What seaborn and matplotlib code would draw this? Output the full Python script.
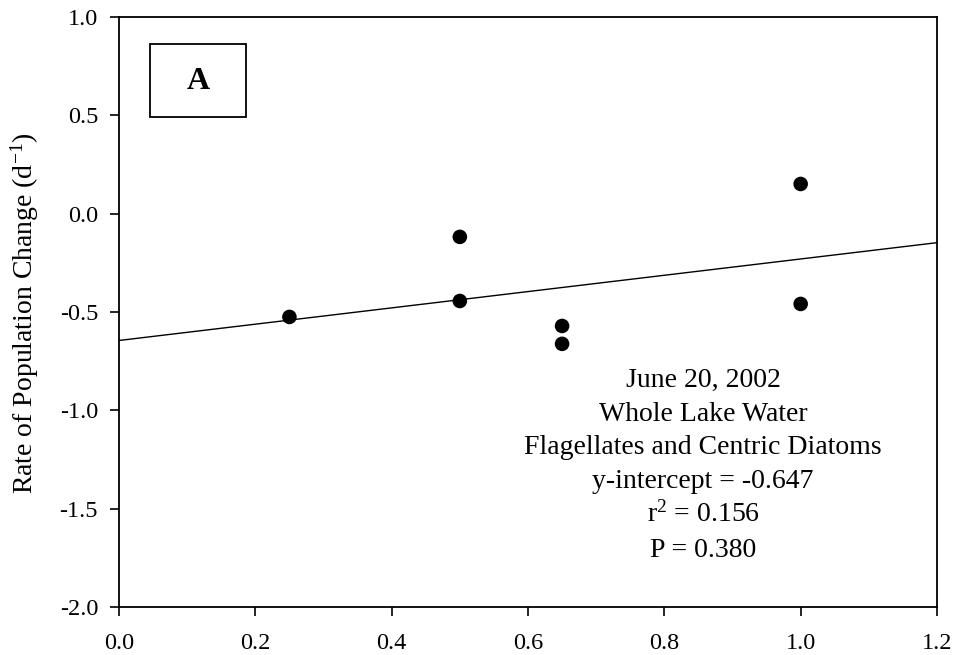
import matplotlib
matplotlib.use("Agg")
import matplotlib.pyplot as plt
from matplotlib.patches import Rectangle
import seaborn as sns
import pandas as pd

# Data
depth_fraction = [0.25, 0.5, 0.5, 0.65, 0.65, 1.0, 1.0]
rate_change = [-0.525, -0.118, -0.444, -0.571, -0.662, 0.151, -0.459]
x_ticks = [0.0, 0.2, 0.4, 0.6, 0.8, 1.0, 1.2]
y_ticks = [-2.0, -1.5, -1.0, -0.5, 0.0, 0.5, 1.0]
annotation_lines = ["June 20, 2002", "Whole Lake Water",
                    "Flagellates and Centric Diatoms",
                    "y-intercept = -0.647", "r$^2$ = 0.156", "P = 0.380"]
panel_label = "A"

sns.set_theme(style="ticks")
plt.rcParams['font.family'] = ['Liberation Serif', 'DejaVu Serif']
plt.rcParams['mathtext.fontset'] = 'custom'
plt.rcParams['mathtext.rm'] = 'Liberation Serif'
plt.rcParams['mathtext.it'] = 'Liberation Serif:italic'
plt.rcParams['mathtext.default'] = 'regular'
plt.rcParams['axes.unicode_minus'] = False
for k in ['text.color', 'axes.labelcolor', 'xtick.color', 'ytick.color',
          'axes.edgecolor']:
    plt.rcParams[k] = 'black'

df = pd.DataFrame({"x": depth_fraction, "y": rate_change})

W, H = 956, 655
fig = plt.figure(figsize=(W/100, H/100), dpi=100)
ax = fig.add_axes([119/W, (H-607)/H, (937-119)/W, (607-17)/H])
ax.set_xlim(0, 1.2)
ax.set_ylim(-2.0, 1.0)

sns.regplot(data=df, x="x", y="y", ax=ax, ci=None, truncate=False,
            color="black",
            scatter_kws=dict(s=110, edgecolors="none", alpha=1, zorder=3),
            line_kws=dict(color="black", lw=1.0))

ax.set_xlim(0, 1.2)
ax.set_ylim(-2.0, 1.0)
ax.set_xticks(x_ticks)
ax.set_yticks(y_ticks)
ax.set_xticklabels([f"{v:.1f}" for v in x_ticks])
ax.set_yticklabels([f"{v:.1f}" for v in y_ticks])
ax.tick_params(axis="both", direction="out", length=6.5, width=1.2,
               labelsize=17.5, colors="black")
ax.tick_params(axis="y", pad=8.6)
ax.tick_params(axis="x", pad=12.5)
for s in ax.spines.values():
    s.set_linewidth(1.3)
    s.set_color("black")
    s.set_visible(True)

ax.set_xlabel("")
ax.set_ylabel("Rate of Population Change (d$^{-1}$)", fontsize=20)
ax.yaxis.set_label_coords((41-119)/818, (607-313.5)/590)

# Panel label box
rect = Rectangle((150/W, 1-117/H), 96/W, 73/H, transform=fig.transFigure,
                 fill=False, ec="black", lw=1.3)
fig.patches.append(rect)
fig.text(198/W, 1-89/H, panel_label, fontsize=23, fontweight="bold",
         ha="center", va="baseline")

baselines = [387, 421, 454, 488, 522, 557]
for line, yp in zip(annotation_lines, baselines):
    fig.text(703/W, 1-yp/H, line, fontsize=20, ha="center", va="baseline")

fig.savefig("out.png", dpi=100)
